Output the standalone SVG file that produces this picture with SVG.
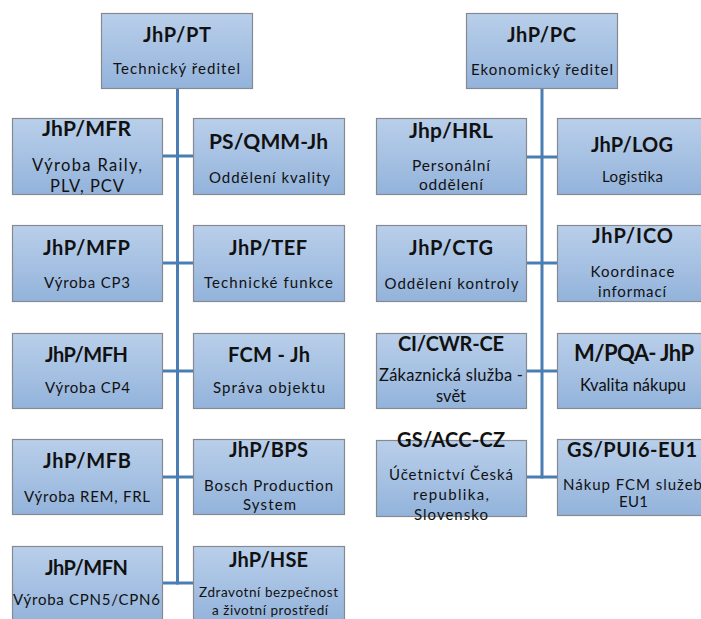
<svg xmlns="http://www.w3.org/2000/svg" width="701" height="619" viewBox="0 0 701 619">
  <defs>
    <linearGradient id="boxFill" x1="0" y1="0" x2="0" y2="1">
      <stop offset="0" stop-color="#b9cfea"/>
      <stop offset="1" stop-color="#93b3db"/>
    </linearGradient>
  </defs>
  <style>
    .box { fill: url(#boxFill); stroke: #868a90; stroke-width: 1.2; }
    .conn { stroke: #4a7db3; stroke-width: 3; fill: none; }
    text { font-family: Lato, "Liberation Sans", sans-serif; fill: #111; text-anchor: middle; }
    .t { font-weight: bold; font-size: 20px; }
    .s { font-size: 15px; }
    .l { font-size: 16.5px; }
  </style>
  <rect width="701" height="619" fill="#ffffff"/>

  <!-- reporting lines -->
  <g id="connectors">
    <line class="conn" x1="177.5" y1="88" x2="177.5" y2="584.5"/>
    <line class="conn" x1="162" y1="156" x2="193" y2="156"/>
    <line class="conn" x1="162" y1="263" x2="193" y2="263"/>
    <line class="conn" x1="162" y1="371" x2="193" y2="371"/>
    <line class="conn" x1="162" y1="477" x2="193" y2="477"/>
    <line class="conn" x1="162" y1="583" x2="193" y2="583"/>
    <line class="conn" x1="542" y1="88" x2="542" y2="478.5"/>
    <line class="conn" x1="526" y1="157" x2="557" y2="157"/>
    <line class="conn" x1="526" y1="263" x2="557" y2="263"/>
    <line class="conn" x1="526" y1="371" x2="557" y2="371"/>
    <line class="conn" x1="526" y1="477" x2="557" y2="477"/>
  </g>

  <!-- technical director branch -->
  <g id="jhp-pt">
    <rect class="box" x="101.5" y="13.5" width="151" height="75"/>
    <text class="t" x="177" y="42" textLength="68">JhP/PT</text>
    <text class="s" x="176.5" y="74" textLength="127">Technický ředitel</text>
  </g>
  <g id="jhp-mfr">
    <rect class="box" x="12.5" y="118.5" width="150" height="76"/>
    <text class="t" x="86.5" y="136" textLength="89" style="font-size:21px">JhP/MFR</text>
    <text class="l" x="87" y="171" textLength="110">Výroba Raily,</text>
    <text class="l" x="87" y="192" textLength="74">PLV, PCV</text>
  </g>
  <g id="ps-qmm-jh">
    <rect class="box" x="193.5" y="118.5" width="151" height="76"/>
    <text class="t" x="268.5" y="149" textLength="119" style="font-size:21px">PS/QMM-Jh</text>
    <text class="s" x="269.5" y="183" textLength="121">Oddělení kvality</text>
  </g>
  <g id="jhp-mfp">
    <rect class="box" x="12.5" y="225.5" width="150" height="76"/>
    <text class="t" x="86.5" y="255" textLength="87">JhP/MFP</text>
    <text class="s" x="87" y="288" textLength="86">Výroba CP3</text>
  </g>
  <g id="jhp-tef">
    <rect class="box" x="193.5" y="225.5" width="151" height="76"/>
    <text class="t" x="268" y="255" textLength="78">JhP/TEF</text>
    <text class="s" x="268.5" y="288" textLength="129">Technické funkce</text>
  </g>
  <g id="jhp-mfh">
    <rect class="box" x="12.5" y="333.5" width="150" height="75"/>
    <text class="t" x="86.5" y="362" textLength="83">JhP/MFH</text>
    <text class="s" x="87.5" y="393" textLength="85">Výroba CP4</text>
  </g>
  <g id="fcm-jh">
    <rect class="box" x="193.5" y="333.5" width="151" height="75"/>
    <text class="t" x="269" y="362" textLength="82">FCM - Jh</text>
    <text class="s" x="269" y="393" textLength="112">Správa objektu</text>
  </g>
  <g id="jhp-mfb">
    <rect class="box" x="12.5" y="439.5" width="150" height="75"/>
    <text class="t" x="87" y="468" textLength="88">JhP/MFB</text>
    <text class="s" x="87" y="502" textLength="126">Výroba REM, FRL</text>
  </g>
  <g id="jhp-bps">
    <rect class="box" x="193.5" y="439.5" width="151" height="75"/>
    <text class="t" x="268.5" y="457" textLength="79">JhP/BPS</text>
    <text class="s" x="268.5" y="491" textLength="129">Bosch Production</text>
    <text class="s" x="269.5" y="510" textLength="53">System</text>
  </g>
  <g id="jhp-mfn">
    <rect class="box" x="12.5" y="546.5" width="150" height="76"/>
    <text class="t" x="86.5" y="575" textLength="83">JhP/MFN</text>
    <text class="s" x="86.5" y="605" textLength="147">Výroba CPN5/CPN6</text>
  </g>
  <g id="jhp-hse">
    <rect class="box" x="193.5" y="546.5" width="151" height="76"/>
    <text class="t" x="268.5" y="567" textLength="79">JhP/HSE</text>
    <text class="s" x="268.5" y="597" textLength="139" style="font-size:13.5px">Zdravotní bezpečnost</text>
    <text class="s" x="270" y="615" textLength="116" style="font-size:13.5px">a životní prostředí</text>
  </g>

  <!-- economic director branch -->
  <g id="jhp-pc">
    <rect class="box" x="466.5" y="13.5" width="151" height="75"/>
    <text class="t" x="541.5" y="42" textLength="69">JhP/PC</text>
    <text class="s" x="542" y="75" textLength="142">Ekonomický ředitel</text>
  </g>
  <g id="jhp-hrl">
    <rect class="box" x="376.5" y="118.5" width="150" height="76"/>
    <text class="t" x="451" y="138" textLength="84" style="font-size:21px">Jhp/HRL</text>
    <text class="s" x="451" y="171" textLength="78" style="font-size:15.5px">Personální</text>
    <text class="s" x="451" y="190" textLength="64" style="font-size:15.5px">oddělení</text>
  </g>
  <g id="jhp-log">
    <rect class="box" x="557.5" y="118.5" width="151" height="76"/>
    <text class="t" x="632" y="152" textLength="82">JhP/LOG</text>
    <text class="s" x="632.5" y="182" textLength="61">Logistika</text>
  </g>
  <g id="jhp-ctg">
    <rect class="box" x="376.5" y="225.5" width="150" height="76"/>
    <text class="t" x="451" y="255" textLength="84">JhP/CTG</text>
    <text class="s" x="451.5" y="289" textLength="134">Oddělení kontroly</text>
  </g>
  <g id="jhp-ico">
    <rect class="box" x="557.5" y="225.5" width="151" height="76"/>
    <text class="t" x="632.5" y="243" textLength="81">JhP/ICO</text>
    <text class="s" x="632.5" y="277" textLength="84">Koordinace</text>
    <text class="s" x="632" y="297" textLength="68">informací</text>
  </g>
  <g id="ci-cwr-ce">
    <rect class="box" x="376.5" y="333.5" width="150" height="75"/>
    <text class="t" x="451" y="351" textLength="106">CI/CWR-CE</text>
    <text class="l" x="451" y="381" textLength="144">Zákaznická služba -</text>
    <text class="l" x="451" y="402" textLength="30">svět</text>
  </g>
  <g id="m-pqa-jhp">
    <rect class="box" x="557.5" y="333.5" width="151" height="75"/>
    <text class="t" x="634" y="361" textLength="120" style="font-size:22px">M/PQA- JhP</text>
    <text class="l" x="633" y="391" textLength="106">Kvalita nákupu</text>
  </g>
  <g id="gs-acc-cz">
    <rect class="box" x="376.5" y="440.5" width="150" height="76"/>
    <text class="t" x="451" y="447" textLength="108">GS/ACC-CZ</text>
    <text class="s" x="451" y="480" textLength="124">Účetnictví Česká</text>
    <text class="s" x="451" y="500" textLength="76">republika,</text>
    <text class="s" x="451" y="520" textLength="74">Slovensko</text>
  </g>
  <g id="gs-pui6-eu1">
    <rect class="box" x="557.5" y="439.5" width="151" height="76"/>
    <text class="t" x="632" y="457" textLength="130">GS/PUI6-EU1</text>
    <text class="s" x="632.5" y="490" textLength="139">Nákup FCM služeb</text>
    <text class="s" x="633.5" y="507" textLength="29">EU1</text>
  </g>
</svg>
